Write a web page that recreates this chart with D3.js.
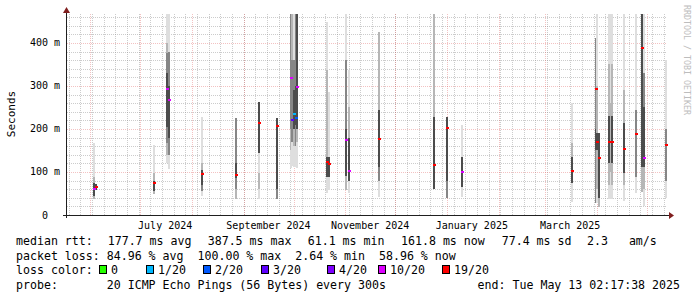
<!DOCTYPE html>
<html>
<head>
<meta charset="utf-8">
<script src="https://cdn.jsdelivr.net/npm/d3@7"></script>
<style>
  body { margin: 0; background: #fff; }
  text { font-family: "DejaVu Sans Mono", monospace; white-space: pre; }
</style>
</head>
<body>
<div id="chart"></div>
<script>
// time span: last 360 days up to the "end" stamp
const endTime = new Date(Date.UTC(2025, 4, 13, 2, 17, 38))
const startTime = new Date(endTime.getTime() - 360 * 864e5)

// one entry per day that has pings
const barDates = ['2024-06-03', '2024-06-04', '2024-07-09', '2024-07-17', '2024-07-18', '2024-08-07',
  '2024-08-27', '2024-09-10', '2024-09-21', '2024-09-29', '2024-09-30', '2024-10-01', '2024-10-02',
  '2024-10-03', '2024-10-21', '2024-10-22', '2024-11-01', '2024-11-03', '2024-11-21', '2024-12-24',
  '2025-01-01', '2025-01-10', '2025-03-17', '2025-03-31', '2025-04-01', '2025-04-02', '2025-04-08',
  '2025-04-09', '2025-04-10', '2025-04-17', '2025-04-24', '2025-04-28', '2025-04-29', '2025-05-12']

// smoke bands per day in ms: [low, high, shade 1..4]
const barSmoke = [
  [[37, 45, 2], [45, 75, 4], [75, 88, 2], [88, 167, 1]],
  [[58, 72, 4]],
  [[49, 55, 2], [55, 80, 4], [80, 98, 2], [98, 163, 1]],
  [[121, 140, 1], [140, 167, 2], [167, 205, 3], [205, 330, 4], [330, 377, 3], [377, 400, 2], [400, 467, 1]],
  [[107, 140, 1], [140, 180, 3], [180, 300, 4], [300, 380, 3], [380, 467, 1]],
  [[44, 55, 1], [55, 70, 3], [70, 105, 4], [105, 121, 2], [121, 228, 1]],
  [[37, 60, 2], [60, 85, 3], [85, 120, 4], [120, 226, 3]],
  [[37, 60, 1], [60, 98, 2], [98, 144, 1], [144, 263, 4]],
  [[37, 60, 3], [60, 226, 4]],
  [[109, 150, 1], [150, 200, 2], [200, 467, 3]],
  [[115, 170, 1], [170, 360, 3], [360, 467, 2]],
  [[112, 160, 1], [160, 200, 2], [200, 290, 4], [290, 360, 3], [360, 467, 1]],
  [[112, 160, 1], [160, 210, 3], [210, 300, 4], [300, 467, 3]],
  [[110, 170, 1], [170, 200, 2], [200, 467, 4]],
  [[51, 88, 1], [88, 135, 4], [135, 337, 2], [337, 449, 1]],
  [[58, 88, 1], [88, 135, 4], [135, 286, 1]],
  [[58, 90, 2], [90, 200, 4], [200, 360, 3], [360, 467, 1]],
  [[51, 80, 1], [80, 180, 4], [180, 250, 2], [250, 337, 1]],
  [[42, 80, 1], [80, 112, 3], [112, 244, 4], [244, 425, 2]],
  [[60, 228, 4], [228, 467, 2]],
  [[40, 80, 3], [80, 228, 4]],
  [[42, 65, 1], [65, 135, 4], [135, 209, 1]],
  [[30, 74, 1], [74, 135, 4], [135, 167, 2], [167, 260, 1]],
  [[28, 150, 3], [150, 200, 4], [200, 411, 3]],
  [[28, 60, 1], [60, 150, 2], [150, 190, 4], [190, 300, 2], [300, 467, 1]],
  [[19, 40, 2], [40, 191, 4]],
  [[37, 70, 1], [70, 120, 2], [120, 230, 4], [230, 350, 2], [350, 467, 1]],
  [[37, 100, 1], [100, 260, 2], [260, 467, 1]],
  [[37, 70, 1], [70, 120, 2], [120, 230, 4], [230, 350, 2], [350, 467, 1]],
  [[33, 70, 1], [70, 98, 2], [98, 214, 4], [214, 290, 2], [290, 467, 1]],
  [[51, 88, 1], [88, 244, 3], [244, 467, 1]],
  [[53, 112, 2], [112, 467, 4]],
  [[21, 60, 1], [60, 112, 2], [112, 250, 4], [250, 330, 3], [330, 467, 1]],
  [[40, 80, 1], [80, 200, 3], [200, 360, 1]]
]

// median rtt (ms) and loss bucket (index into lossLabels)
const barMedian = [60, 66, 75, 293, 267, 95, 93, 214, 207, 318, 221, 235, 226, 298, 123, 118, 174, 102,
  177, 116, 202, 100, 102, 293, 170, 132, 170, null, 170, 153, 188, 388, 133, 161.8]
const barLoss = [5, 6, 6, 5, 5, 6, 6, 6, 6, 5, 3, 1, 2, 5, 6, 6, 5, 5,
  6, 6, 6, 5, 6, 6, 6, 6, 6, null, 6, 6, 6, 6, 5, 6]

const lossLabels = ['0', '1/20', '2/20', '3/20', '4/20', '10/20', '19/20']
const lossColors = ['#26ff00', '#00b8ff', '#0059ff', '#5e00ff', '#7e00ff', '#dd00ff', '#ff0000']
const smokeShades = ['#ffffff', '#dedede', '#b6b6b6', '#868686', '#4c4c4c']

const yTicks = [0, 100, 200, 300, 400]
const yTickLabels = ['0  ', '100 m', '200 m', '300 m', '400 m']
const monthLabels = ['July 2024', 'September 2024', 'November 2024', 'January 2025', 'March 2025']
const monthLabelDates = ['2024-07-16', '2024-09-16', '2024-11-16', '2025-01-16', '2025-03-16']

const rttItems = ['median rtt:', '177.7 ms avg', '387.5 ms max', '61.1 ms min', '161.8 ms now', '77.4 ms sd', '2.3   am/s']
const lossLine = 'packet loss: 84.96 % avg  100.00 % max  2.64 % min  58.96 % now'
const probeText = 'probe:       20 ICMP Echo Pings (56 Bytes) every 300s'
const endText = 'end: Tue May 13 02:17:38 2025'

const width = 697, height = 297
const plot = { left: 67, right: 667, top: 14, bottom: 215 }

const svg = d3.select('#chart').append('svg')
  .attr('width', width)
  .attr('height', height)
  .style('display', 'block')

svg.append('rect').attr('width', width).attr('height', height).attr('fill', '#fff')

const x = d3.scaleUtc().domain([startTime, endTime]).range([plot.left, plot.right])
const y = d3.scaleLinear().domain([0, 467.4]).range([plot.bottom, plot.top])
const parseDay = d3.utcParse('%Y-%m-%d')

// grid
const minorColor = 'rgba(143,143,143,0.45)', majorColor = 'rgba(222,79,79,0.35)'
const grid = svg.append('g').attr('shape-rendering', 'crispEdges')
const minorY = d3.range(20, 467, 20).filter(v => v % 100 !== 0)
grid.selectAll('.hmin').data(minorY).enter().append('line')
  .attr('x1', plot.left).attr('x2', plot.right)
  .attr('y1', d => Math.round(y(d)) + 0.5).attr('y2', d => Math.round(y(d)) + 0.5)
  .attr('stroke', minorColor).attr('stroke-dasharray', '1,1')
grid.selectAll('.vmin').data(d3.utcSunday.range(startTime, endTime)).enter().append('line')
  .attr('x1', d => Math.round(x(d)) + 0.5).attr('x2', d => Math.round(x(d)) + 0.5)
  .attr('y1', plot.bottom).attr('y2', plot.top)
  .attr('stroke', minorColor).attr('stroke-dasharray', '1,1')
grid.selectAll('.hmaj').data(yTicks.slice(1)).enter().append('line')
  .attr('x1', plot.left).attr('x2', plot.right)
  .attr('y1', d => Math.round(y(d)) + 0.5).attr('y2', d => Math.round(y(d)) + 0.5)
  .attr('stroke', majorColor).attr('stroke-dasharray', '1,1')
grid.selectAll('.vmaj').data(d3.utcMonth.range(startTime, endTime)).enter().append('line')
  .attr('x1', d => Math.round(x(d)) + 0.5).attr('x2', d => Math.round(x(d)) + 0.5)
  .attr('y1', plot.bottom).attr('y2', plot.top)
  .attr('stroke', majorColor).attr('stroke-dasharray', '1,1')

// smoke
const bars = barDates.map((d, i) => {
  const t = parseDay(d)
  const x0 = Math.floor(x(t))
  return { x0: x0, w: Math.min(2, plot.right - x0), smoke: barSmoke[i], med: barMedian[i], loss: barLoss[i] }
})

const smoke = svg.append('g').attr('shape-rendering', 'crispEdges')
bars.forEach(b => {
  smoke.selectAll(null).data(b.smoke).enter().append('rect')
    .attr('x', b.x0)
    .attr('width', b.w)
    .attr('y', s => Math.round(y(s[1])))
    .attr('height', s => Math.max(1, Math.round(y(s[0])) - Math.round(y(s[1]))))
    .attr('fill', s => smokeShades[s[2]])
})

svg.append('g').attr('shape-rendering', 'crispEdges')
  .selectAll('rect').data(bars.filter(b => b.med != null)).enter().append('rect')
  .attr('x', b => b.x0)
  .attr('width', b => b.w + 1)
  .attr('y', b => Math.round(y(b.med)) - 1)
  .attr('height', 2)
  .attr('fill', b => lossColors[b.loss])

// axes
const axisColor = '#1f1f1f', arrowColor = '#801f1f'
const axes = svg.append('g').attr('shape-rendering', 'crispEdges')
axes.append('line').attr('x1', 63).attr('x2', 670)
  .attr('y1', plot.bottom + 0.5).attr('y2', plot.bottom + 0.5).attr('stroke', axisColor)
axes.append('line').attr('x1', plot.left - 0.5).attr('x2', plot.left - 0.5)
  .attr('y1', 218).attr('y2', 10).attr('stroke', axisColor)
svg.append('path').attr('d', `M669,${plot.bottom - 3}L674,${plot.bottom + 0.5}L669,${plot.bottom + 4}Z`).attr('fill', arrowColor)
svg.append('path').attr('d', `M${plot.left - 4},13L${plot.left - 0.5},7L${plot.left + 3},13Z`).attr('fill', arrowColor)

// y labels
svg.append('g').selectAll('text').data(yTicks).enter().append('text')
  .attr('x', 60)
  .attr('y', d => y(d) + 3.5)
  .attr('text-anchor', 'end')
  .attr('font-size', '10px')
  .text((d, i) => yTickLabels[i])

svg.append('text')
  .attr('transform', 'translate(15,114) rotate(-90)')
  .attr('text-anchor', 'middle')
  .attr('font-size', '11px')
  .text('Seconds')

// month labels
svg.append('g').selectAll('text').data(monthLabelDates).enter().append('text')
  .attr('x', d => x(parseDay(d)))
  .attr('y', 229)
  .attr('text-anchor', 'middle')
  .attr('font-size', '10px')
  .text((d, i) => monthLabels[i])

// watermark
svg.append('text')
  .attr('transform', 'translate(684,5) rotate(90)')
  .attr('font-size', '8.3px')
  .attr('fill', '#bdbdbd')
  .text('RRDTOOL / TOBI OETIKER')

// legend
const legendFont = '11.6px'
const rttX = [16, 107.7, 207.7, 307.7, 401, 501.7, 587]
svg.append('g').selectAll('text').data(rttItems).enter().append('text')
  .attr('x', (d, i) => rttX[i]).attr('y', 245)
  .attr('font-size', legendFont)
  .text(d => d)

svg.append('text').attr('x', 16).attr('y', 259.5).attr('font-size', legendFont).text(lossLine)

svg.append('text').attr('x', 16).attr('y', 274).attr('font-size', legendFont).text('loss color:')
const lossX = [99, 146, 203, 261, 327, 378, 442]
const lossItems = svg.append('g').selectAll('g').data(lossLabels).enter().append('g')
  .attr('transform', (d, i) => `translate(${lossX[i]},0)`)
lossItems.append('rect')
  .attr('x', 0.5).attr('y', 265.5).attr('width', 7).attr('height', 8)
  .attr('fill', (d, i) => lossColors[i]).attr('stroke', '#000').attr('shape-rendering', 'crispEdges')
lossItems.append('text')
  .attr('x', 12).attr('y', 274).attr('font-size', legendFont)
  .text(d => d)

svg.append('text').attr('x', 16).attr('y', 288.5).attr('font-size', legendFont).text(probeText)
svg.append('text').attr('x', 680).attr('y', 288.5).attr('text-anchor', 'end').attr('font-size', legendFont).text(endText)
</script>
</body>
</html>
